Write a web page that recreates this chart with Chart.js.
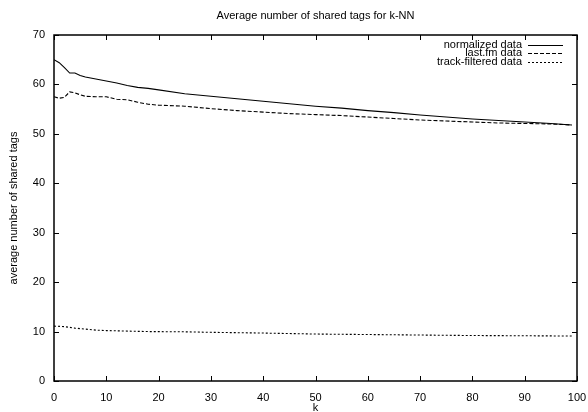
<!DOCTYPE html>
<html>
<head>
<meta charset="utf-8">
<script src="https://cdn.jsdelivr.net/npm/chart.js@4"></script>
<style>
  html, body { margin: 0; padding: 0; background: #fff; }
  canvas { display: block; }
</style>
</head>
<body>
<canvas id="myChart" width="588" height="412"></canvas>
<script>
// valeurs (k -> moyenne)
const kNorm = [0, 1, 2, 3, 4, 5, 6, 8, 10, 12, 14, 16, 18, 20, 25, 30, 35, 40, 45, 50, 55, 60, 65, 70, 75, 80, 85, 90, 95, 99];
const normalizedData = [65.0, 64.4, 63.4, 62.3, 62.3, 61.8, 61.5, 61.1, 60.7, 60.3, 59.8, 59.4, 59.2, 58.9, 58.1, 57.6, 57.1, 56.6, 56.1, 55.6, 55.2, 54.7, 54.3, 53.8, 53.4, 53.0, 52.7, 52.4, 52.1, 51.8];
const lastfmData = [57.5, 57.2, 57.4, 58.5, 58.3, 57.9, 57.6, 57.5, 57.5, 57.0, 56.9, 56.4, 56.0, 55.8, 55.6, 55.1, 54.7, 54.4, 54.1, 53.9, 53.7, 53.4, 53.1, 52.8, 52.6, 52.4, 52.2, 52.1, 52.0, 51.8];
const kTrack = [0, 2, 4, 6, 8, 10, 14, 18, 25, 30, 40, 50, 60, 70, 80, 90, 99];
const trackFilteredData = [11.1, 11.0, 10.7, 10.5, 10.3, 10.2, 10.1, 10.0, 9.95, 9.85, 9.7, 9.5, 9.4, 9.3, 9.2, 9.15, 9.1];
const seriesLabels = ['normalized data', 'last.fm data', 'track-filtered data'];
const chartTitle = 'Average number of shared tags for k-NN';

const fontFamily = '"Liberation Sans", Arial, Helvetica, sans-serif';

function toPoints(xs, ys) {
    return xs.map((k, i) => ({ x: k, y: ys[i] }));
}

// cadre + graduations vers l'intérieur (style gnuplot)
const framePlugin = {
    id: 'frame',
    afterDatasetsDraw(chart) {
        const { ctx, chartArea: { left, right, top, bottom }, scales: { x, y } } = chart;
        const tl = 5;
        ctx.save();
        ctx.strokeStyle = '#000';
        ctx.lineWidth = 1;
        ctx.beginPath();
        x.ticks.forEach(t => {
            const px = Math.round(x.getPixelForValue(t.value)) + 0.5;
            ctx.moveTo(px, bottom); ctx.lineTo(px, bottom - tl);
            ctx.moveTo(px, top); ctx.lineTo(px, top + tl);
        });
        y.ticks.forEach(t => {
            const py = Math.round(y.getPixelForValue(t.value)) + 0.5;
            ctx.moveTo(left, py); ctx.lineTo(left + tl, py);
            ctx.moveTo(right, py); ctx.lineTo(right - tl, py);
        });
        ctx.stroke();
        ctx.lineWidth = 1.5;
        ctx.strokeRect(left, top, right - left, bottom - top);
        ctx.restore();
    }
};

// titre centré sur la zone du graphe + légende en haut à droite
const legendPlugin = {
    id: 'gpLegend',
    afterDraw(chart) {
        const { ctx, chartArea: { left, right, top } } = chart;
        ctx.save();
        ctx.font = '11px ' + fontFamily;
        ctx.fillStyle = '#000';
        ctx.textAlign = 'center';
        ctx.textBaseline = 'middle';
        ctx.fillText(chartTitle, (left + right) / 2, 15.5);

        ctx.textAlign = 'right';
        chart.data.datasets.forEach((ds, i) => {
            const yy = top + 10 + i * 8.4;
            ctx.fillText(ds.label, right - 55, yy);
            ctx.setLineDash(ds.borderDash || []);
            ctx.lineWidth = 1;
            ctx.strokeStyle = '#000';
            ctx.beginPath();
            ctx.moveTo(right - 49, Math.round(yy) + 0.5);
            ctx.lineTo(right - 14, Math.round(yy) + 0.5);
            ctx.stroke();
        });
        ctx.restore();
    }
};

const chart = new Chart(
    document.getElementById('myChart'),
    {
        type: 'line',
        data: {
            datasets: [
                {
                    label: seriesLabels[0],
                    data: toPoints(kNorm, normalizedData),
                    borderColor: '#000',
                    borderWidth: 1.1
                },
                {
                    label: seriesLabels[1],
                    data: toPoints(kNorm, lastfmData),
                    borderColor: '#000',
                    borderWidth: 1.1,
                    borderDash: [4, 2]
                },
                {
                    label: seriesLabels[2],
                    data: toPoints(kTrack, trackFilteredData),
                    borderColor: '#000',
                    borderWidth: 1.1,
                    borderDash: [2, 2]
                }
            ]
        },
        options: {
            responsive: false,
            animation: false,
            layout: { padding: { left: 0, right: 11, top: 35, bottom: 0 } },
            elements: { point: { radius: 0 }, line: { tension: 0 } },
            plugins: {
                legend: { display: false },
                tooltip: { enabled: false },
                title: { display: false }
            },
            scales: {
                x: {
                    type: 'linear',
                    min: 0,
                    max: 100,
                    grid: { display: false, drawTicks: false },
                    border: { display: false },
                    ticks: {
                        stepSize: 10,
                        padding: 10,
                        maxRotation: 0,
                        color: '#000',
                        font: { family: fontFamily, size: 11 }
                    },
                    title: {
                        display: true,
                        text: 'k',
                        color: '#000',
                        padding: { top: 0, bottom: -3 },
                        font: { family: fontFamily, size: 11 }
                    },
                    afterFit(scale) {
                        scale.height = 31;
                        scale.paddingLeft = 0;
                        scale.paddingRight = 0;
                    }
                },
                y: {
                    min: 0,
                    max: 70,
                    grid: { display: false, drawTicks: false },
                    border: { display: false },
                    ticks: {
                        stepSize: 10,
                        padding: 9,
                        color: '#000',
                        font: { family: fontFamily, size: 11 }
                    },
                    title: {
                        display: true,
                        text: 'average number of shared tags',
                        color: '#000',
                        padding: { top: 7, bottom: 0 },
                        font: { family: fontFamily, size: 11 }
                    },
                    afterFit(scale) {
                        scale.width = 54;
                        scale.paddingTop = 0;
                        scale.paddingBottom = 0;
                    }
                }
            }
        },
        plugins: [framePlugin, legendPlugin]
    }
);
</script>
</body>
</html>
